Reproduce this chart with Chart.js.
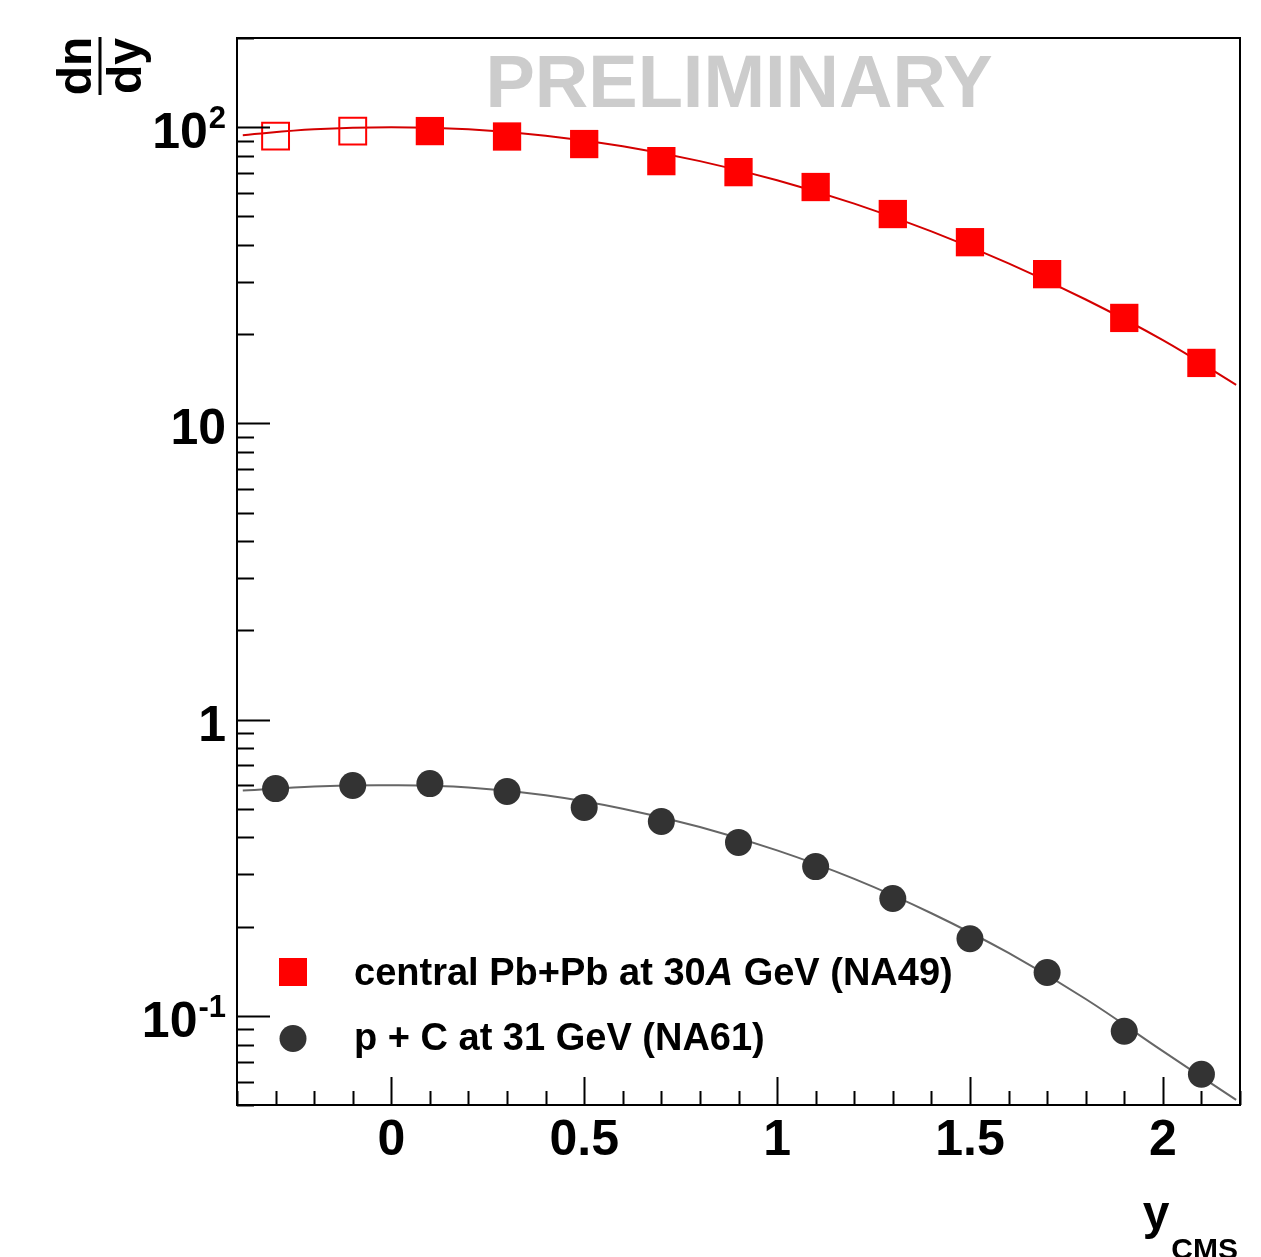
<!DOCTYPE html>
<html>
<head>
<meta charset="utf-8">
<script src="https://cdn.jsdelivr.net/npm/chart.js@4.4.1/dist/chart.umd.min.js"></script>
<style>
body { margin: 0; background: #fff; }
#wrap { width: 1261px; height: 1257px; position: relative; }
</style>
</head>
<body>
<div id="wrap"><canvas id="dndyChart"></canvas></div>
<script>
// measured points (first two Pb+Pb points are reflected -> open markers)
const rapidity = [-0.3, -0.1, 0.1, 0.3, 0.5, 0.7, 0.9, 1.1, 1.3, 1.5, 1.7, 1.9, 2.1];
const pbpbValues = [93.3, 97, 97, 93, 87.7, 76.8, 70.5, 62.8, 50.9, 40.9, 31.9, 22.7, 16.0];
const pcValues = [0.585, 0.599, 0.608, 0.572, 0.505, 0.453, 0.385, 0.319, 0.249, 0.182, 0.140, 0.0887, 0.0635];
const reflectedCount = 2;

// fit curves
const fitX = [-0.385, -0.2, 0, 0.2, 0.4, 0.6, 0.8, 1.0, 1.2, 1.4, 1.6, 1.8, 2.0, 2.19];
const pbpbFit = [94, 98.4, 100, 98.4, 93.6, 86.2, 76.8, 66.2, 55.2, 44.5, 34.7, 26.2, 19.1, 13.5];
const pcFit = [0.576, 0.595, 0.60, 0.59, 0.555, 0.50, 0.434, 0.362, 0.290, 0.222, 0.163, 0.114, 0.076, 0.052];

const xTickLabels = [0, 0.5, 1, 1.5, 2];
const yTickLabels = [[0.1, '10', '-1'], [1, '1', ''], [10, '10', ''], [100, '10', '2']];
const legendLabels = ['central Pb+Pb at 30', 'A', ' GeV (NA49)', 'p + C at 31 GeV (NA61)'];

const FONT = '"Liberation Sans", Arial, Helvetica, sans-serif';

function pts(xs, ys) {
    return xs.map((x, i) => ({x: x, y: ys[i]}));
}

const rootFrame = {
    id: 'rootFrame',
    afterDraw(chart) {
        const ctx = chart.ctx;
        const a = chart.chartArea;
        const x = chart.scales.x;
        const y = chart.scales.y;
        ctx.save();

        // frame
        ctx.strokeStyle = '#000';
        ctx.lineWidth = 2;
        ctx.strokeRect(a.left, a.top, a.right - a.left, a.bottom - a.top);

        // y ticks (inside, left only)
        ctx.lineWidth = 2;
        ctx.beginPath();
        for (let d = -2; d <= 2; d++) {
            for (let m = 1; m <= 9; m++) {
                const v = m * Math.pow(10, d);
                if (v < y.min || v > y.max) continue;
                const py = Math.round(y.getPixelForValue(v)) + 0.5;
                const len = m === 1 ? 33 : 17;
                ctx.moveTo(a.left, py);
                ctx.lineTo(a.left + len, py);
            }
        }
        // x ticks every 0.1
        for (let i = -4; i <= 22; i++) {
            const px = Math.round(x.getPixelForValue(i / 10)) + 0.5;
            const len = i % 5 === 0 ? 28 : 14;
            ctx.moveTo(px, a.bottom);
            ctx.lineTo(px, a.bottom - len);
        }
        ctx.stroke();

        // x labels
        ctx.fillStyle = '#000';
        ctx.font = 'bold 50px ' + FONT;
        ctx.textAlign = 'center';
        ctx.textBaseline = 'alphabetic';
        xTickLabels.forEach(v => {
            ctx.fillText(String(v), x.getPixelForValue(v), a.bottom + 50);
        });

        // y labels
        ctx.textAlign = 'right';
        yTickLabels.forEach(([v, base, sup]) => {
            const py = y.getPixelForValue(v);
            let right = a.left - 11;
            if (sup) {
                ctx.font = 'bold 31px ' + FONT;
                ctx.fillText(sup, right, py + 1);
                right -= ctx.measureText(sup).width + 1;
            }
            ctx.font = 'bold 50px ' + FONT;
            ctx.fillText(base, right, py + 21);
        });

        // y title: dn/dy, rotated
        ctx.save();
        ctx.translate(100, 66);
        ctx.rotate(-Math.PI / 2);
        ctx.font = 'bold 48px ' + FONT;
        ctx.textAlign = 'center';
        ctx.fillText('dn', 0, -9);
        ctx.fillText('dy', 0, 41);
        ctx.fillRect(-29, -1.5, 58, 3);
        ctx.restore();

        // x title: y_CMS
        ctx.textAlign = 'right';
        ctx.font = 'bold 30px ' + FONT;
        ctx.fillText('CMS', 1238, 1259);
        const cmsW = ctx.measureText('CMS').width;
        ctx.font = 'bold 48px ' + FONT;
        ctx.fillText('y', 1238 - cmsW - 2, 1229);

        // PRELIMINARY
        ctx.fillStyle = '#cccccc';
        ctx.textAlign = 'center';
        ctx.font = 'bold 74px ' + FONT;
        ctx.fillText('PRELIMINARY', 739, 107);

        // legend
        ctx.fillStyle = '#ff0000';
        ctx.fillRect(279, 958, 28, 28);
        ctx.fillStyle = '#333333';
        ctx.beginPath();
        ctx.arc(293, 1038.5, 13.5, 0, Math.PI * 2);
        ctx.fill();

        ctx.fillStyle = '#000';
        ctx.textAlign = 'left';
        let tx = 354;
        ctx.font = 'bold 38px ' + FONT;
        ctx.fillText(legendLabels[0], tx, 985);
        tx += ctx.measureText(legendLabels[0]).width;
        ctx.font = 'italic bold 38px ' + FONT;
        ctx.fillText(legendLabels[1], tx, 985);
        tx += ctx.measureText(legendLabels[1]).width;
        ctx.font = 'bold 38px ' + FONT;
        ctx.fillText(legendLabels[2], tx, 985);
        ctx.fillText(legendLabels[3], 354, 1050);

        ctx.restore();
    }
};

const data = {
    datasets: [
        {
            label: 'Pb+Pb fit',
            data: pts(fitX, pbpbFit),
            showLine: true,
            borderColor: '#d40000',
            borderWidth: 2,
            pointRadius: 0,
            tension: 0.4,
            order: 3
        },
        {
            label: 'p+C fit',
            data: pts(fitX, pcFit),
            showLine: true,
            borderColor: '#666666',
            borderWidth: 2,
            pointRadius: 0,
            tension: 0.4,
            order: 3
        },
        {
            label: 'central Pb+Pb reflected',
            data: pts(rapidity.slice(0, reflectedCount), pbpbValues.slice(0, reflectedCount)),
            pointStyle: 'rect',
            pointRadius: 19,
            pointBackgroundColor: 'rgba(0,0,0,0)',
            pointBorderColor: '#ff0000',
            pointBorderWidth: 2,
            order: 1
        },
        {
            label: 'central Pb+Pb at 30A GeV (NA49)',
            data: pts(rapidity.slice(reflectedCount), pbpbValues.slice(reflectedCount)),
            pointStyle: 'rect',
            pointRadius: 20,
            pointBackgroundColor: '#ff0000',
            pointBorderWidth: 0,
            order: 1
        },
        {
            label: 'p + C at 31 GeV (NA61)',
            data: pts(rapidity, pcValues),
            pointStyle: 'circle',
            pointRadius: 13.5,
            pointBackgroundColor: '#333333',
            pointBorderWidth: 0,
            order: 1
        }
    ]
};

const config = {
    type: 'scatter',
    data: data,
    options: {
        responsive: true,
        maintainAspectRatio: false,
        animation: false,
        events: [],
        layout: {
            padding: {left: 237, right: 20, top: 38, bottom: 152}
        },
        plugins: {
            legend: {display: false},
            tooltip: {enabled: false}
        },
        scales: {
            x: {type: 'linear', min: -0.4, max: 2.2, display: false},
            y: {type: 'logarithmic', min: 0.05, max: 200, display: false}
        }
    },
    plugins: [rootFrame]
};

const dndyChart = new Chart(document.getElementById('dndyChart'), config);
</script>
</body>
</html>
